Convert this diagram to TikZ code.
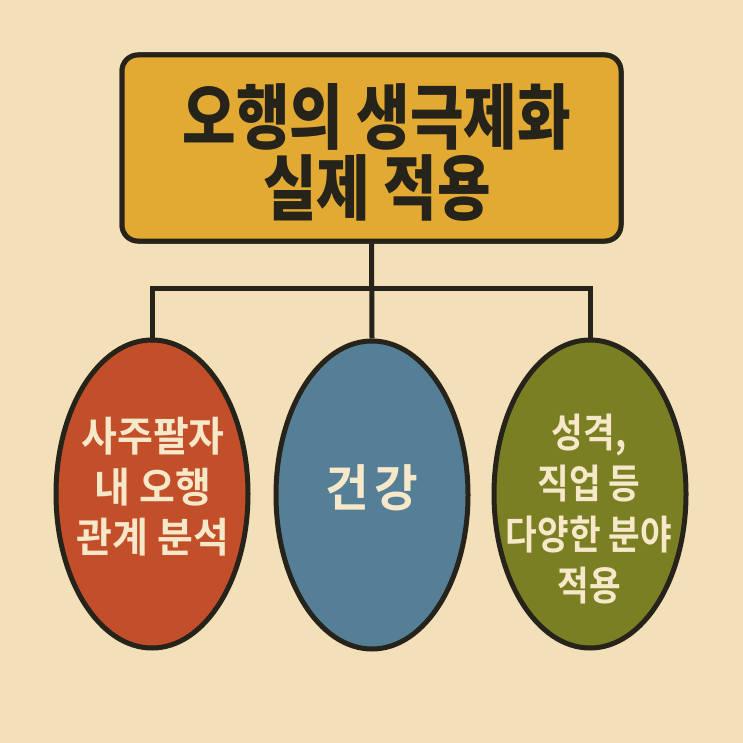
\documentclass[tikz,border=0pt]{standalone}
\usepackage{fontspec}
\usetikzlibrary{shapes.geometric}
\newfontfamily\krtitle{Noto Sans CJK KR Black}[FakeStretch=0.82]
\newfontfamily\krbody{Noto Sans CJK KR Bold}[FakeStretch=0.95]
\newfontfamily\krbodynarrow{Noto Sans CJK KR Bold}[FakeStretch=0.86]
\definecolor{bg}{HTML}{F3DFB8}
\definecolor{ink}{HTML}{25231A}
\definecolor{gold}{HTML}{E2AA32}
\definecolor{rust}{HTML}{C24E2A}
\definecolor{steel}{HTML}{547F96}
\definecolor{olive}{HTML}{7B7F24}
\definecolor{cream}{HTML}{F6E8C8}
\tikzset{
  titlebox/.style={draw=ink, line width=5pt, fill=gold, rounded corners=16pt,
    minimum width=499pt, minimum height=186pt, inner sep=0pt},
  titletext/.style={align=center, text=ink, inner sep=0pt,
    font=\krtitle\fontsize{71}{71}\selectfont},
  leaf/.style={ellipse, draw=ink, line width=5pt, minimum width=192pt,
    minimum height=308pt, inner sep=0pt},
  leaftext/.style={align=center, text=cream, inner sep=0pt,
    font=\krbody\fontsize{41}{50.5}\selectfont},
  link/.style={draw=ink, line width=5pt}
}
\begin{document}
\begin{tikzpicture}[x=1pt,y=-1pt]
\fill[bg] (0,0) rectangle (743,743);
\useasboundingbox (0,0) rectangle (743,743);
\node[leaf, fill=rust] (l) at (152,494) {};
\node[leaf, fill=steel] (m) at (372,495) {};
\node[leaf, fill=olive] (r) at (590,494) {};
\coordinate (bus) at (372,288);
\node[titlebox] (top) at (371.5,148) {};
\draw[link] (l.north) |- (bus) -| (r.north);
\draw[link] (top.south) -- (m.north);
\node[titlebox] (topfront) at (top) {};
\node[titletext] (toptext) at (377,152) {오행의 생극제화\\실제 적용};
\node[leaftext] (ltext) at (153,487) {사주팔자\\내 오행\\관계 분석};
\node[leaftext, font=\krbody\fontsize{50}{52}\selectfont] (mtext) at (372,488) {건\kern5pt강};
\node[leaftext, font=\krbodynarrow\fontsize{40}{51}\selectfont] (rtext) at (589,509) {성격,\\직업 등\\다양한 분야\\적용};
\end{tikzpicture}
\end{document}
